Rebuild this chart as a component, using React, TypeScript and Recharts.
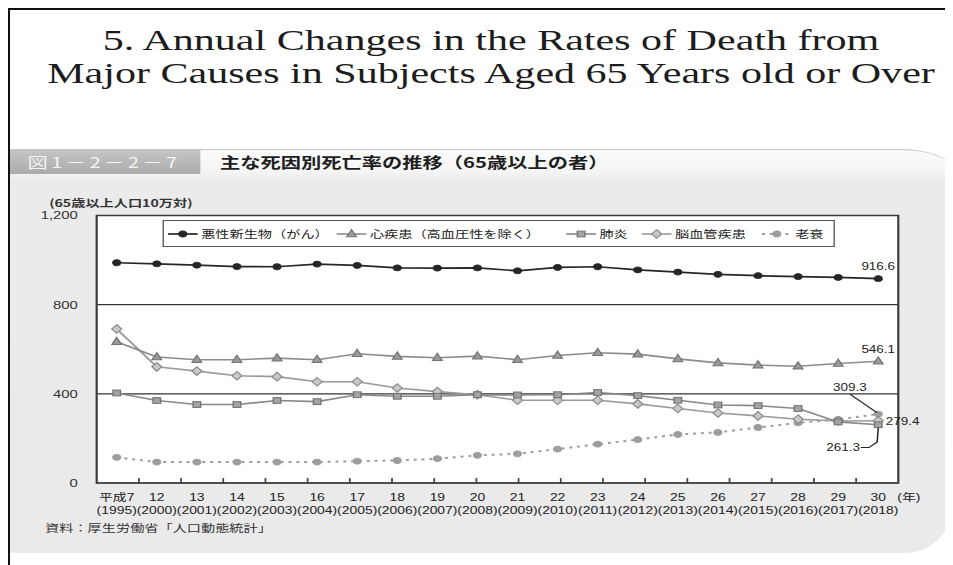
import React from 'react';
import {
  LineChart,
  Line,
  XAxis,
  YAxis,
  CartesianGrid,
  ReferenceArea,
  ReferenceLine,
  Legend,
  LabelList,
} from 'recharts';

// 年次（和暦）と西暦
const eras = ['平成7', '12', '13', '14', '15', '16', '17', '18', '19', '20', '21', '22', '23', '24', '25', '26', '27', '28', '29', '30'];
const years = ['1995', '2000', '2001', '2002', '2003', '2004', '2005', '2006', '2007', '2008', '2009', '2010', '2011', '2012', '2013', '2014', '2015', '2016', '2017', '2018'];

// 65歳以上人口10万対の死亡率
const cancer = [988, 983, 977, 971, 970, 982, 976, 965, 964, 965, 952, 967, 970, 956, 946, 936, 930, 926, 922, 916.6];
const heart = [634, 565, 553, 553, 560, 553, 580, 568, 562, 569, 553, 572, 584, 578, 557, 539, 529, 524, 536, 546.1];
const pneumonia = [404, 370, 352, 352, 370, 365, 396, 389, 389, 396, 395, 396, 406, 392, 371, 350, 347, 334, 274, 261.3];
const cerebro = [691, 521, 502, 481, 477, 454, 454, 426, 410, 396, 371, 371, 371, 355, 334, 314, 301, 286, 278, 279.4];
const senility = [115, 94, 94, 94, 94, 94, 98, 101, 109, 124, 131, 152, 174, 195, 218, 227, 249, 270, 285, 309.3];

const yTicks = [0, 400, 800, 1200];
// 目盛線の位置（横軸を19等分した境界）
const bandMarks = [1, 2, 3, 4, 5, 6, 7, 8, 9, 10, 11, 12, 13, 14, 15, 16, 17, 18];
const markLength = 22; // 目盛線の長さ（縦軸の値）

const data = eras.map((era, i) => ({
  era,
  year: years[i],
  cancer: cancer[i],
  heart: heart[i],
  pneumonia: pneumonia[i],
  cerebro: cerebro[i],
  senility: senility[i],
}));

const FONT = "'Liberation Sans', Arial, 'Noto Sans CJK JP', sans-serif";
const JP_FONT = "'Noto Sans CJK JP', 'Liberation Sans', sans-serif";
const STRETCH = 1.35;
const LAST = eras.length - 1;

type Series = {
  key: string;
  name: string;
  color: string;
  marker: 'circle' | 'triangle' | 'square' | 'diamond';
  fill: string;
  edge: string;
  dash?: string;
  width: number;
};

const SERIES: Series[] = [
  { key: 'cancer', name: '悪性新生物（がん）', color: '#262626', marker: 'circle', fill: '#262626', edge: '#262626', width: 1.7 },
  { key: 'heart', name: '心疾患（高血圧性を除く）', color: '#8c8c8c', marker: 'triangle', fill: '#9a9a9a', edge: '#747474', width: 1.6 },
  { key: 'pneumonia', name: '肺炎', color: '#888888', marker: 'square', fill: '#a3a3a3', edge: '#737373', width: 1.6 },
  { key: 'cerebro', name: '脳血管疾患', color: '#9a9a9a', marker: 'diamond', fill: '#c8c8c8', edge: '#878787', width: 1.6 },
  { key: 'senility', name: '老衰', color: '#9d9d9d', marker: 'circle', fill: '#9d9d9d', edge: '#9d9d9d', dash: '2.2 3.6', width: 2 },
];

// 凡例項目の左端位置（凡例枠内）
const legendLeft = [3, 128, 298, 354, 443];

function Marker({ kind, cx, cy, fill, edge }: { kind: Series['marker']; cx: number; cy: number; fill: string; edge: string }) {
  if (cx == null || cy == null) return <g />;
  switch (kind) {
    case 'triangle':
      return <polygon points={`${cx},${cy - 4.4} ${cx - 3.6},${cy + 2.8} ${cx + 3.6},${cy + 2.8}`} fill={fill} stroke={edge} strokeWidth={1} />;
    case 'square':
      return <rect x={cx - 2.8} y={cy - 2.9} width={5.6} height={5.8} fill={fill} stroke={edge} strokeWidth={1} />;
    case 'diamond':
      return <polygon points={`${cx},${cy - 4.3} ${cx + 3.7},${cy} ${cx},${cy + 4.3} ${cx - 3.7},${cy}`} fill={fill} stroke={edge} strokeWidth={1} />;
    default:
      return <circle cx={cx} cy={cy} r={3} fill={fill} stroke={edge} strokeWidth={0.8} />;
  }
}

function EndNote({ kind, x, y, text }: { kind: string; x: number; y: number; text: string }) {
  const common = { fontFamily: FONT, fontSize: 10, fill: '#222' };
  switch (kind) {
    case 'cancer':
    case 'heart':
      return <text {...common} x={x} y={y - 8.5} textAnchor="middle">{text}</text>;
    case 'senility':
      return (
        <g>
          <path d={`M${x - 21},${y - 20} L${x - 1},${y - 1.5}`} stroke="#222" strokeWidth={1.1} fill="none" />
          <text {...common} x={x - 21} y={y - 23.2} textAnchor="middle">{text}</text>
        </g>
      );
    case 'cerebro':
      return <text {...common} x={x + 5.5} y={y + 4.3} textAnchor="start">{text}</text>;
    case 'pneumonia':
      return (
        <g>
          <path d={`M${x - 13},${y + 22.8} L${x - 6.9},${y + 22.8} L${x - 0.8},${y + 17.2} L${x},${y + 3}`} stroke="#222" strokeWidth={1.1} fill="none" />
          <text {...common} x={x - 26} y={y + 26.4} textAnchor="middle">{text}</text>
        </g>
      );
    default:
      return null;
  }
}

const endLabel = (kind: string) => (props: any) => {
  if (props.index !== LAST) return null;
  const x = props.x ?? props.viewBox?.x;
  const y = props.y ?? props.viewBox?.y;
  if (x == null || y == null) return null;
  return <EndNote kind={kind} x={x} y={y} text={String(props.value)} />;
};

function EraTick(props: any) {
  const { x, y, payload } = props;
  const i = eras.indexOf(payload.value);
  return (
    <g fontFamily={FONT} fontSize={10.3} fill="#222">
      <text x={x} y={y + 18.5} textAnchor="middle">{payload.value}</text>
      <text x={x} y={y + 31.5} textAnchor="middle">({years[i]})</text>
      {i === LAST && (
        <text x={x + 22.7} y={y + 18.5} textAnchor="middle">(年)</text>
      )}
    </g>
  );
}

function LegendBox() {
  return (
    <div
      style={{
        position: 'relative',
        boxSizing: 'border-box',
        width: 498,
        height: 27,
        border: '1px solid #555',
        background: '#fff',
        fontFamily: JP_FONT,
        fontSize: 10.5,
        color: '#222',
      }}
    >
      {SERIES.map((s, i) => (
        <div
          key={s.key}
          style={{ position: 'absolute', left: legendLeft[i], top: 0, height: 25, display: 'flex', alignItems: 'center', whiteSpace: 'nowrap' }}
        >
          <svg width={22} height={10} style={{ overflow: 'visible' }}>
            <line x1={0} y1={5} x2={22} y2={5} stroke={s.color} strokeWidth={s.width} strokeDasharray={s.dash} />
            <Marker kind={s.marker} cx={11} cy={5} fill={s.fill} edge={s.edge} />
          </svg>
          <span style={{ marginLeft: 3 }}>{s.name}</span>
        </div>
      ))}
    </div>
  );
}

export default function App() {
  return (
    <div
      style={{
        position: 'relative',
        boxSizing: 'border-box',
        width: 945,
        height: 557,
        borderLeft: '2px solid #111',
        borderTop: '2px solid #111',
        overflow: 'hidden',
        background: '#fff',
      }}
    >
      {/* 英文タイトル */}
      <div
        style={{
          position: 'absolute',
          top: 14,
          left: 481,
          transform: 'translateX(-50%) scaleX(1.45)',
          fontFamily: "'Liberation Serif', 'Times New Roman', serif",
          fontSize: 29,
          lineHeight: '33px',
          whiteSpace: 'nowrap',
          textAlign: 'center',
          color: '#1c1c1c',
        }}
      >
        <div>5. Annual Changes in the Rates of Death from</div>
        <div>Major Causes in Subjects Aged 65 Years old or Over</div>
      </div>

      {/* 図表パネル */}
      <div
        style={{
          position: 'absolute',
          left: 0,
          top: 139,
          width: 698.5,
          height: 404,
          transform: `scaleX(${STRETCH})`,
          transformOrigin: '0 0',
        }}
      >
        <div
          style={{
            position: 'absolute',
            inset: 0,
            boxSizing: 'border-box',
            borderTop: '1px solid #c2c2c2',
            borderTopRightRadius: '39px 22px',
            borderBottomRightRadius: '36px 50px',
            background: 'linear-gradient(to bottom, #fbfbfb 0px, #f4f4f4 22px, #ebebeb 31px, #eaeaea 100%)',
          }}
        />
        <div
          style={{
            position: 'absolute',
            left: 0,
            top: 0,
            width: 141,
            height: 25,
            background: 'linear-gradient(to bottom, #c6c6c6, #ababab)',
            color: '#f4f4f4',
            fontFamily: JP_FONT,
            fontSize: 15,
            lineHeight: '25px',
            paddingLeft: 13,
            boxSizing: 'border-box',
            letterSpacing: 2.5,
            whiteSpace: 'nowrap',
          }}
        >
          図1－2－2－7
        </div>
        <div
          style={{
            position: 'absolute',
            left: 155.6,
            top: 4,
            fontFamily: JP_FONT,
            fontSize: 15,
            fontWeight: 'bold',
            lineHeight: '18px',
            color: '#1e1e1e',
            whiteSpace: 'nowrap',
          }}
        >
          主な死因別死亡率の推移（65歳以上の者）
        </div>
        <div
          style={{
            position: 'absolute',
            left: 29,
            top: 47,
            fontFamily: JP_FONT,
            fontSize: 10.5,
            fontWeight: 'bold',
            lineHeight: '14px',
            color: '#333',
            whiteSpace: 'nowrap',
          }}
        >
          (65歳以上人口10万対)
        </div>
        <div
          style={{
            position: 'absolute',
            left: 26,
            top: 372,
            fontFamily: JP_FONT,
            fontSize: 10.5,
            lineHeight: '14px',
            color: '#333',
            whiteSpace: 'nowrap',
          }}
        >
          資料：厚生労働省「人口動態統計」
        </div>

        <div style={{ position: 'absolute', left: 0, top: 0 }}>
          <LineChart width={698} height={404} data={data} margin={{ top: 66.5, right: 40, bottom: 34, left: 0 }}>
            <CartesianGrid xAxisId="cat" vertical={false} stroke="#333" strokeWidth={1.2} fill="#fff" fillOpacity={1} />
            <XAxis xAxisId="marks" type="number" domain={[0, 19]} allowDataOverflow hide />
            <XAxis
              xAxisId="cat"
              dataKey="era"
              scale="band"
              interval={0}
              height={36}
              axisLine={false}
              tickLine={false}
              tickSize={0}
              tickMargin={0}
              tick={EraTick}
            />
            <YAxis
              width={64.2}
              domain={[0, 1200]}
              ticks={yTicks}
              interval={0}
              axisLine={false}
              tickLine={false}
              tickMargin={8}
              tickFormatter={(v: number) => v.toLocaleString('en-US')}
              tick={{ fontSize: 11, fill: '#333', fontFamily: FONT }}
            />
            {bandMarks.map((m) => (
              <ReferenceLine
                key={`mark-${m}`}
                xAxisId="marks"
                segment={[{ x: m, y: 0 }, { x: m, y: markLength }]}
                stroke="#444"
                strokeWidth={1.3}
                ifOverflow="visible"
              />
            ))}
            <ReferenceArea xAxisId="cat" y1={0} y2={1200} fill="none" stroke="#3a3a3a" strokeWidth={1.6} ifOverflow="visible" />
            {SERIES.slice().reverse().map((s) => (
              <Line
                key={s.key}
                xAxisId="cat"
                dataKey={s.key}
                name={s.name}
                type="linear"
                stroke={s.color}
                strokeWidth={s.width}
                strokeDasharray={s.dash}
                isAnimationActive={false}
                dot={(p: any) => (
                  <Marker key={`${s.key}-${p.index}`} kind={s.marker} cx={p.cx} cy={p.cy} fill={s.fill} edge={s.edge} />
                )}
                activeDot={false}
              >
                <LabelList dataKey={s.key} content={endLabel(s.key)} />
              </Line>
            ))}
            <Legend
              layout="horizontal"
              verticalAlign="middle"
              align="center"
              wrapperStyle={{ position: 'absolute', top: 71, left: 112.6, width: 498, height: 27 }}
              content={LegendBox}
            />
          </LineChart>
        </div>
      </div>
    </div>
  );
}
